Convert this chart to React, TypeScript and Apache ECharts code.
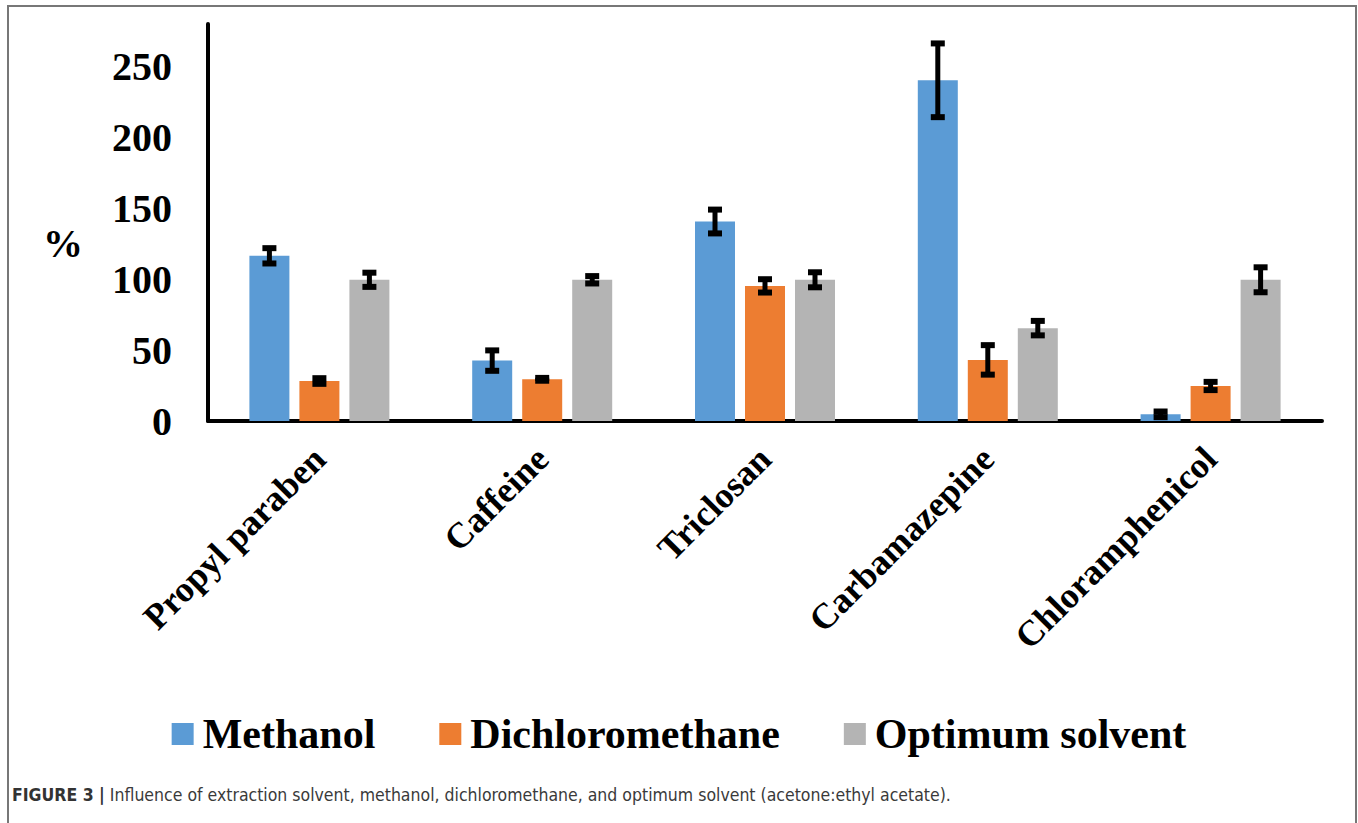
import React, { useEffect, useRef } from "react";
import * as echarts from "echarts";

const categories = ["Propyl paraben", "Caffeine", "Triclosan", "Carbamazepine", "Chloramphenicol"];
const seriesNames = ["Methanol", "Dichloromethane", "Optimum solvent"];
const methanol = [116.5, 42.6, 140.7, 240.3, 4.7];
const methanolErr = [5.4, 7.2, 8.4, 26, 2];
const dichloromethane = [28.2, 29.4, 95.3, 43.1, 24.7];
const dichloromethaneErr = [2, 1, 4.7, 10.4, 2.9];
const optimum = [99.6, 99.6, 99.6, 65.5, 99.6];
const optimumErr = [5, 2.6, 5.3, 5.1, 8.8];
const colors = ["#5B9BD5", "#ED7D31", "#B4B4B4"];
const yTicks = [0, 50, 100, 150, 200, 250];

const SERIF = '"Liberation Serif", "Times New Roman", serif';
const SANS = '"Liberation Sans Narrow", "DejaVu Sans Condensed", "Liberation Sans", sans-serif';

export default function App() {
  const ref = useRef<HTMLDivElement>(null);
  useEffect(() => {
    document.body.style.margin = "0";
    const chart = echarts.init(ref.current!, undefined, { renderer: "svg" });
    const values = [methanol, dichloromethane, optimum];
    const errs = [methanolErr, dichloromethaneErr, optimumErr];
    const offsets = [-50, 0, 50];
    const bars = values.map((v, i) => ({
      name: seriesNames[i],
      type: "bar",
      data: v,
      barWidth: 40,
      barGap: "25%",
      itemStyle: { color: colors[i] },
      z: 2,
    }));
    const errSeries = values.map((v, i) => ({
      type: "custom",
      z: 5,
      data: v.map((val, j) => [j, val, errs[i][j]]),
      renderItem: (params: any, api: any) => {
        const c = api.value(0);
        const val = api.value(1);
        const e = api.value(2);
        const top = api.coord([c, val + e]);
        const bot = api.coord([c, val - e]);
        const x = top[0] + offsets[i];
        const hw = 7;
        const st = { stroke: "#000", lineWidth: 5 };
        const cap = { stroke: "#000", lineWidth: 6 };
        return {
          type: "group",
          children: [
            { type: "line", shape: { x1: x, y1: top[1], x2: x, y2: bot[1] }, style: st },
            { type: "line", shape: { x1: x - hw, y1: top[1], x2: x + hw, y2: top[1] }, style: cap },
            { type: "line", shape: { x1: x - hw, y1: bot[1], x2: x + hw, y2: bot[1] }, style: cap },
          ],
        };
      },
    }));
    chart.setOption({
      animation: false,
      grid: { left: 208, right: 36, top: 24, bottom: 402, containLabel: false },
      xAxis: {
        type: "category",
        data: categories,
        axisLine: { lineStyle: { color: "#000", width: 4 } },
        axisTick: { show: false },
        axisLabel: {
          rotate: 45,
          interval: 0,
          margin: 32,
          fontSize: 36,
          fontWeight: "bold",
          fontFamily: SERIF,
          color: "#000",
        },
      },
      yAxis: {
        type: "value",
        min: 0,
        max: 280,
        interval: 50,
        axisLine: { show: true, lineStyle: { color: "#000", width: 4 } },
        axisTick: { show: false },
        splitLine: { show: false },
        axisLabel: {
          margin: 36,
          fontSize: 40,
          fontWeight: "bold",
          fontFamily: SERIF,
          color: "#000",
          showMaxLabel: false,
          formatter: (v: number) => (yTicks.includes(v) ? String(v) : ""),
        },
      },
      legend: {
        data: seriesNames,
        top: 704,
        left: "center",
        icon: "rect",
        itemWidth: 22,
        itemHeight: 22,
        itemGap: 64,
        textStyle: {
          fontSize: 42,
          fontWeight: "bold",
          fontFamily: SERIF,
          color: "#000",
          lineHeight: 50,
          padding: [0, 0, 0, 4],
        },
      },
      graphic: [
        {
          type: "rect",
          shape: { x: 8, y: 6, width: 1348, height: 840 },
          style: { fill: "none", stroke: "#777", lineWidth: 2 },
          silent: true,
        },
        {
          type: "text",
          x: 63,
          y: 243,
          style: {
            text: "%",
            fontSize: 40,
            fontWeight: "bold",
            fontFamily: SERIF,
            fill: "#000",
            align: "center",
            verticalAlign: "middle",
          },
        },
        {
          type: "text",
          x: 12,
          y: 795,
          style: {
            text: "{b|FIGURE 3 |} Influence of extraction solvent, methanol, dichloromethane, and optimum solvent (acetone:ethyl acetate).",
            fontSize: 17.5,
            fontFamily: SANS,
            fill: "#3a3a3a",
            verticalAlign: "middle",
            rich: {
              b: {
                fontSize: 17.5,
                fontWeight: "bold",
                fontFamily: SANS,
                fill: "#333",
              },
            },
          },
        },
      ],
      series: [...bars, ...errSeries],
    });
    return () => chart.dispose();
  }, []);
  return <div ref={ref} style={{ width: 1358, height: 823 }} />;
}
